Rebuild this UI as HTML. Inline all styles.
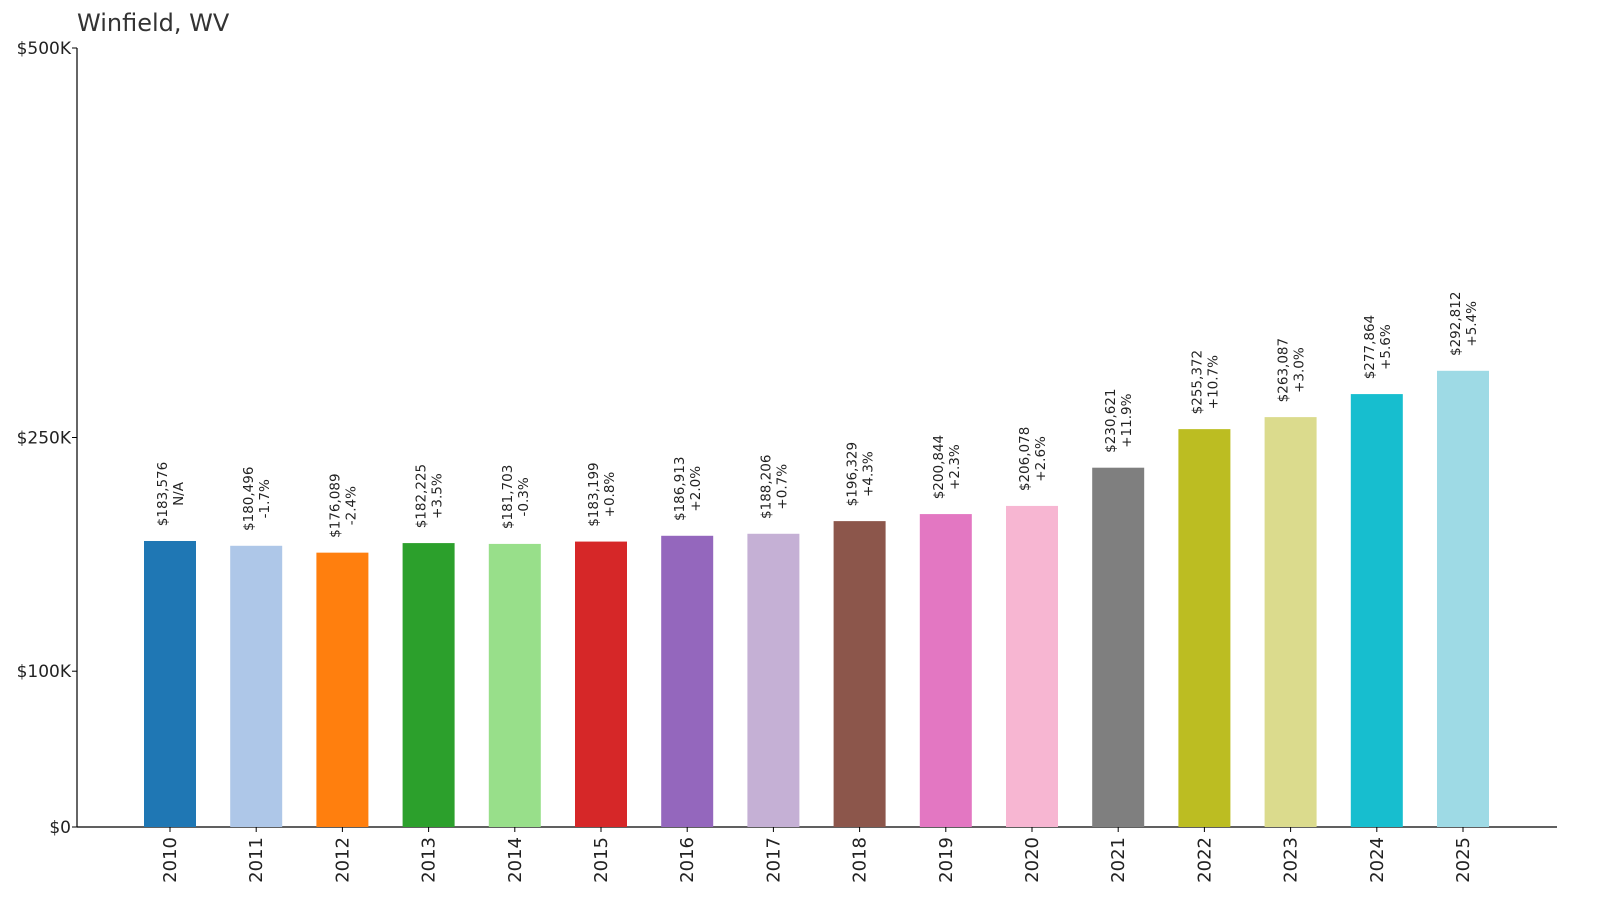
<!DOCTYPE html>
<html><head><meta charset="utf-8"><style>
html,body{margin:0;padding:0;background:#fff;}
svg{display:block;font-family:"DejaVu Sans","Liberation Sans",sans-serif;}
</style></head><body>
<svg id="chart" width="1600" height="910" viewBox="0 0 1600 910">
<text x="77" y="31" font-size="24" fill="#333">Winfield, WV</text>
<g id="axes"></g>
<g id="bars"></g>
</svg>
<script>
const years = ["2010","2011","2012","2013","2014","2015","2016","2017","2018","2019","2020","2021","2022","2023","2024","2025"];
const values = [183576,180496,176089,182225,181703,183199,186913,188206,196329,200844,206078,230621,255372,263087,277864,292812];
const changes = ["N/A","-1.7%","-2.4%","+3.5%","-0.3%","+0.8%","+2.0%","+0.7%","+4.3%","+2.3%","+2.6%","+11.9%","+10.7%","+3.0%","+5.6%","+5.4%"];
const yTicks = [0,100000,250000,500000];
const yTickLabels = ["$0","$100K","$250K","$500K"];
const colors = ["#1f77b4","#aec7e8","#ff7f0e","#2ca02c","#98df8a","#d62728","#9467bd","#c5b0d5","#8c564b","#e377c2","#f7b6d2","#7f7f7f","#bcbd22","#dbdb8d","#17becf","#9edae5"];
const NS="http://www.w3.org/2000/svg";
const y0=827, yTop=48, maxV=500000;
const yScale=v=>y0-(v/maxV)*(y0-yTop);
const xScale=i=>170+i*86.2;
const bw=52;
const axes=document.getElementById('axes'), bars=document.getElementById('bars');
function mk(tag,attrs,parent,text){const e=document.createElementNS(NS,tag);for(const k in attrs)e.setAttribute(k,attrs[k]);if(text!==undefined)e.textContent=text;parent.appendChild(e);return e;}
let e=mk('line',{x1:77,y1:yTop,x2:77,y2:y0,stroke:'#000','stroke-width':1.2},axes);


e=mk('line',{x1:77,y1:y0,x2:1557,y2:y0,stroke:'#000','stroke-width':1.2},axes);


yTicks.forEach((t,i)=>{
  const y=yScale(t);
  mk('line',{x1:72,y1:y,x2:77,y2:y,stroke:'#000'},axes);
  const tx=mk('text',{x:71,y:y+6,'text-anchor':'end','font-size':17,fill:'#222'},axes,yTickLabels[i]);
  
  
});
years.forEach((yr,i)=>{
  const x=xScale(i), top=yScale(values[i]);
  const r=mk('rect',{x:x-bw/2,y:top,width:bw,height:y0-top,fill:colors[i]},bars);
  
  
  mk('line',{x1:x,y1:y0,x2:x,y2:y0+5,stroke:'#000'},axes);
  const yl=mk('text',{x:0,y:0,transform:`translate(${x+6},${y0+10}) rotate(-90)`,'text-anchor':'end','font-size':18,fill:'#222'},axes,yr);
  
  
  const cy=top-14-33;
  const l1=mk('text',{x:0,y:0,transform:`translate(${x-3},${cy}) rotate(-90)`,'text-anchor':'middle','font-size':13.5,fill:'#222'},bars,'$'+values[i].toLocaleString('en-US'));
  
  
  const l2=mk('text',{x:0,y:0,transform:`translate(${x+13},${cy}) rotate(-90)`,'text-anchor':'middle','font-size':13.5,fill:'#222'},bars,changes[i]);
  
  
});
</script>
</body></html>
